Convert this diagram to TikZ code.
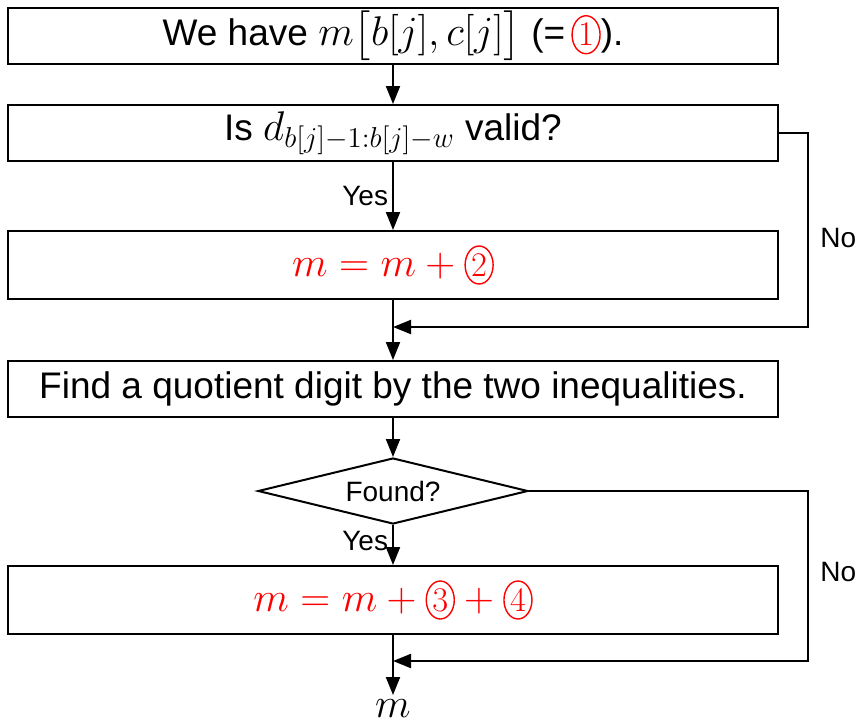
\documentclass[tikz,border=0pt]{standalone}
\usepackage{amsmath}
\usepackage{fontspec}
\setmainfont{Liberation Sans}
\usetikzlibrary{arrows.meta,shapes.geometric}

\newcommand{\bigtxt}{\fontsize{18.5}{22}\selectfont}
\newcommand{\smalltxt}{\fontsize{14}{17}\selectfont}
\newcommand{\mth}[1]{{\fontsize{21}{25}\selectfont$#1$}}
% circled number, drawn as a thin oval
\newcommand{\cnum}[1]{\tikz[baseline=(cn.base)]\node[ellipse,draw=red,text=red,line width=0.7pt,inner sep=0pt,minimum width=14pt,minimum height=19pt,anchor=base] (cn) {\fontsize{18}{20}\selectfont$#1$};}

\begin{document}
\begin{tikzpicture}[x=0.5pt,y=-0.5pt,>={Triangle[length=9pt,width=7pt]},
  stepbox/.style={draw,line width=1pt,minimum width=385pt,minimum height=28pt,inner sep=0pt,font=\bigtxt},
  tallbox/.style={stepbox,minimum height=34pt},
  decide/.style={draw,line width=1pt,diamond,aspect=4,inner sep=0pt,minimum width=135pt,minimum height=33pt,font=\smalltxt},
  flow/.style={line width=1pt},
  lbl/.style={font=\smalltxt,inner sep=2pt}]

\useasboundingbox (0,0) rectangle (858,724);

% boxes of the flow
\node[stepbox] (have) at (393,35.5) {We have \mth{m\bigl[b[j],c[j]\bigr]} (=\,\cnum{1}).};
\node[stepbox] (valid) at (393,133) {Is \mth{d_{b[j]-1:b[j]-w}} valid?};
\node[tallbox,text=red] (add2) at (393,265) {\mth{m=m+{}}\cnum{2}};
\node[stepbox] (find) at (393,389) {Find a quotient digit by the two inequalities.};
\node[decide] (found) at (393,491) {Found?};
\node[tallbox,text=red] (add34) at (393,600) {\mth{m=m+{}}\cnum{3}\mth{{}+{}}\cnum{4}};
\node[anchor=north,inner sep=2pt,font=\bigtxt] (out) at (393,695) {\mth{m}};

% join points of the No branches
\coordinate (join1) at (808,327);
\coordinate (join2) at (808,661);

% main line
\draw[flow,->] (have) -- (valid);
\draw[flow,->] (valid) -- node[lbl,left] {Yes} (add2);
\draw[flow,->] (add2) -- (find);
\draw[flow,->] (find) -- (found);
\draw[flow,->] (found) -- node[lbl,left,pos=0.4] {Yes} (add34);
\draw[flow,->] (add34) -- (out);

% No branches
\draw[flow,->] (valid.east) -- (valid.east -| join1) -- (join1) -- (join1 -| add2.south);
\node[lbl,anchor=west] (no1) at (816,238) {No};
\draw[flow,->] (found.east) -- (found.east -| join2) -- (join2) -- (join2 -| add34.south);
\node[lbl,anchor=west] (no2) at (816,572) {No};

\end{tikzpicture}
\end{document}
